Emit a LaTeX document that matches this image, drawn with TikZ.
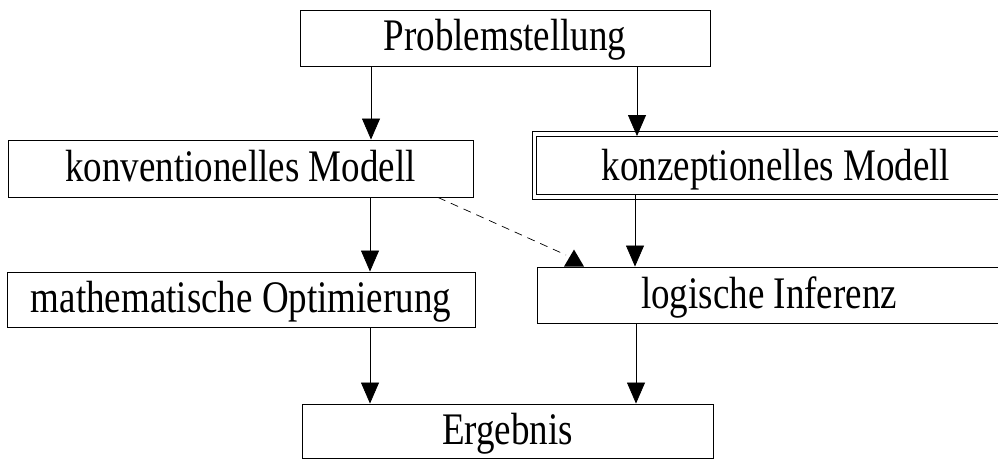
\documentclass[tikz,border=0pt]{standalone}
\usepackage{fontspec}
\setmainfont{Liberation Serif}
\usetikzlibrary{arrows.meta}
\newcommand{\tallt}[1]{\scalebox{1}[1.22]{#1}}
\begin{document}
\begin{tikzpicture}[x=1pt,y=-1pt,
  box/.style={draw, line width=0.9pt, inner sep=0pt, text height=29pt, text depth=3pt, font=\fontsize{37}{44}\selectfont},
  arr/.style={line width=0.7pt, -{Triangle[length=21pt,width=18pt]}},
  dsh/.style={line width=0.7pt, dash pattern=on 8pt off 6pt}]
\useasboundingbox (0,0) rectangle (998,460);
\clip (0,0) rectangle (998,460);
\node[box, minimum width=410pt, minimum height=56pt] (P) at (505,38) {\tallt{Problemstellung}};
\node[box, minimum width=465pt, minimum height=57pt] (KV) at (240.5,168.5) {\tallt{konventionelles Modell}};
\node[box, double, double distance=3.5pt, text height=31pt, text depth=1pt, minimum width=483pt, minimum height=63pt] (KZ) at (776,165.5) {\tallt{konzeptionelles Modell}};
\node[box, minimum width=468pt, minimum height=55pt] (MO) at (241,299.5) {\tallt{mathematische Optimierung}};
\node[box, minimum width=464pt, minimum height=56pt] (LI) at (769,295) {\tallt{logische Inferenz}};
\node[box, minimum width=411pt, minimum height=54pt] (E) at (507.5,431) {\tallt{Ergebnis}};
\draw[arr] (P.south -| 371,0) -- (KV.north -| 371,0);
\draw[arr] (P.south -| 637,0) -- ([yshift=-2.5pt]KZ.north -| 637,0);
\draw[arr] (KV.south -| 370,0) -- (MO.north -| 370,0);
\draw[arr] ([yshift=2.5pt]KZ.south -| 635,0) -- (LI.north -| 635,0);
\draw[arr] (MO.south -| 370,0) -- (E.north -| 370,0);
\draw[arr] (LI.south -| 636,0) -- (E.north -| 636,0);
\coordinate (dend) at (566,255);
\draw[dsh] (KV.south -| 438,0) -- (dend);
\fill (LI.north -| 564,0) -- ++(10,-17) -- ++(10,17) -- cycle;
\end{tikzpicture}
\end{document}
